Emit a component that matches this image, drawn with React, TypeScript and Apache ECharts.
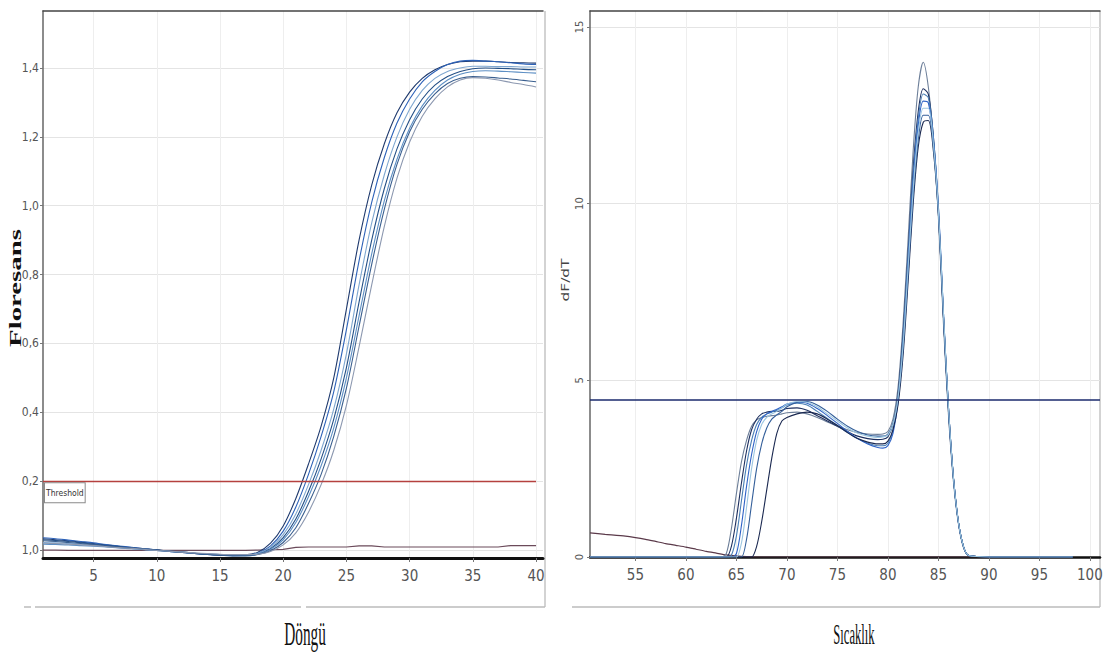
import React, { useEffect, useRef } from 'react';
import * as echarts from 'echarts';

// ---------- Left panel: amplification (Floresans vs Döngü) ----------
const cycles = [1, 2, 3, 4, 5, 6, 7, 8, 9, 10, 11, 12, 13, 14, 15, 16, 17, 18, 19, 20, 21, 22, 23, 24, 25, 26, 27, 28, 29, 30, 31, 32, 33, 34, 35, 36, 37, 38, 39, 40];

const ampA = [0.033, 0.030, 0.027, 0.023, 0.019, 0.015, 0.011, 0.007, 0.004, 0.001, -0.003, -0.006, -0.009, -0.012, -0.014, -0.015, -0.014, -0.006, 0.020, 0.070, 0.150, 0.250, 0.360, 0.500, 0.700, 0.900, 1.060, 1.180, 1.270, 1.330, 1.370, 1.395, 1.410, 1.418, 1.420, 1.420, 1.418, 1.416, 1.415, 1.414];
const ampB = [0.036, 0.033, 0.029, 0.025, 0.021, 0.016, 0.012, 0.008, 0.004, 0.000, -0.004, -0.007, -0.010, -0.013, -0.015, -0.016, -0.015, -0.009, 0.012, 0.055, 0.125, 0.220, 0.330, 0.460, 0.640, 0.840, 1.010, 1.140, 1.240, 1.310, 1.360, 1.390, 1.410, 1.420, 1.422, 1.420, 1.418, 1.415, 1.412, 1.410];
const ampC = [0.022, 0.021, 0.019, 0.017, 0.014, 0.011, 0.008, 0.005, 0.002, -0.001, -0.004, -0.006, -0.009, -0.011, -0.013, -0.014, -0.014, -0.009, 0.008, 0.045, 0.105, 0.190, 0.290, 0.410, 0.570, 0.770, 0.950, 1.090, 1.200, 1.280, 1.335, 1.370, 1.390, 1.400, 1.405, 1.405, 1.404, 1.404, 1.403, 1.403];
const ampD = [0.030, 0.028, 0.025, 0.021, 0.017, 0.013, 0.010, 0.006, 0.003, 0.000, -0.004, -0.007, -0.010, -0.013, -0.015, -0.017, -0.017, -0.012, 0.004, 0.036, 0.090, 0.170, 0.265, 0.380, 0.530, 0.720, 0.900, 1.050, 1.165, 1.250, 1.310, 1.350, 1.375, 1.390, 1.398, 1.400, 1.399, 1.398, 1.396, 1.395];
const ampE = [0.017, 0.016, 0.015, 0.013, 0.011, 0.009, 0.006, 0.004, 0.001, -0.001, -0.004, -0.006, -0.009, -0.011, -0.013, -0.015, -0.015, -0.012, 0.002, 0.030, 0.080, 0.155, 0.245, 0.355, 0.500, 0.680, 0.860, 1.015, 1.135, 1.225, 1.290, 1.335, 1.365, 1.382, 1.390, 1.392, 1.391, 1.389, 1.387, 1.385];
const ampF = [0.027, 0.025, 0.022, 0.019, 0.016, 0.012, 0.009, 0.006, 0.003, 0.000, -0.003, -0.006, -0.009, -0.012, -0.014, -0.015, -0.015, -0.013, -0.002, 0.022, 0.065, 0.135, 0.220, 0.330, 0.470, 0.650, 0.830, 0.990, 1.120, 1.215, 1.280, 1.325, 1.355, 1.370, 1.375, 1.374, 1.371, 1.368, 1.364, 1.360];
const ampG = [0.020, 0.019, 0.017, 0.015, 0.013, 0.010, 0.007, 0.005, 0.002, -0.001, -0.003, -0.006, -0.008, -0.010, -0.012, -0.013, -0.013, -0.012, -0.004, 0.015, 0.050, 0.110, 0.190, 0.290, 0.420, 0.590, 0.770, 0.940, 1.080, 1.185, 1.260, 1.310, 1.345, 1.365, 1.372, 1.370, 1.365, 1.358, 1.352, 1.345];
const ampNTC = [0.000, 0.000, -0.001, -0.001, -0.001, -0.001, -0.001, -0.001, -0.001, -0.001, -0.001, -0.001, -0.001, -0.001, -0.001, -0.001, -0.001, 0.000, 0.001, 0.002, 0.008, 0.009, 0.009, 0.009, 0.009, 0.012, 0.012, 0.009, 0.009, 0.009, 0.009, 0.009, 0.009, 0.009, 0.009, 0.009, 0.009, 0.013, 0.013, 0.013];

const thresholdValue = 0.2;
const thresholdStart = 1;
const thresholdEnd = 40;

const leftXTickValues = [5, 10, 15, 20, 25, 30, 35, 40];
const leftYTickValues = [0, 0.2, 0.4, 0.6, 0.8, 1.0, 1.2, 1.4];
const leftYTickLabels = ['1,0', '0,2', '0,4', '0,6', '0,8', '1,0', '1,2', '1,4'];

// ---------- Right panel: melt curve (dF/dT vs Sıcaklık) ----------
const temps = [50.5, 55, 60, 63, 63.5, 64, 64.5, 65, 65.5, 66, 66.5, 67, 67.5, 68, 68.5, 69, 69.5, 70, 71, 72, 73, 74, 75, 76, 77, 78, 79, 79.5, 80, 80.5, 81, 81.5, 82, 82.5, 83, 83.5, 84, 84.5, 85, 85.5, 86, 86.5, 87, 87.5, 88, 90, 95, 98.3];

const melt1 = [0, 0, 0, 0, 0, 0.1, 0.8, 1.8, 2.7, 3.3, 3.7, 3.88, 3.95, 3.98, 4.0, 4.02, 4.05, 4.08, 4.1, 4.05, 3.95, 3.82, 3.7, 3.6, 3.52, 3.48, 3.47, 3.48, 3.55, 3.9, 4.8, 6.6, 9.0, 11.5, 13.3, 14.0, 13.3, 11.8, 9.6, 6.6, 4.0, 2.1, 0.9, 0.25, 0.04, 0, 0, 0];
const melt2 = [0, 0, 0, 0, 0, 0, 0.3, 1.1, 2.1, 3.0, 3.6, 3.9, 4.05, 4.1, 4.12, 4.12, 4.15, 4.2, 4.22, 4.15, 4.0, 3.85, 3.7, 3.55, 3.42, 3.35, 3.32, 3.33, 3.4, 3.75, 4.6, 6.3, 8.6, 11.0, 12.6, 13.25, 13.1, 11.9, 9.8, 6.8, 4.1, 2.2, 0.95, 0.27, 0.04, 0, 0, 0];
const melt3 = [0, 0, 0, 0, 0, 0, 0.05, 0.6, 1.6, 2.6, 3.3, 3.75, 3.95, 4.05, 4.1, 4.15, 4.22, 4.3, 4.35, 4.3, 4.12, 3.92, 3.72, 3.52, 3.35, 3.22, 3.15, 3.15, 3.22, 3.6, 4.5, 6.2, 8.5, 10.8, 12.4, 13.1, 13.0, 11.9, 9.9, 6.9, 4.2, 2.2, 0.95, 0.28, 0.04, 0, 0, 0];
const melt4 = [0, 0, 0, 0, 0, 0, 0, 0.1, 0.9, 2.0, 2.9, 3.55, 3.9, 4.05, 4.12, 4.18, 4.25, 4.33, 4.38, 4.35, 4.2, 4.0, 3.78, 3.55, 3.35, 3.2, 3.1, 3.08, 3.15, 3.5, 4.4, 6.0, 8.3, 10.6, 12.2, 12.9, 12.85, 11.8, 9.9, 6.9, 4.2, 2.2, 0.95, 0.28, 0.04, 0, 0, 0];
const melt5 = [0, 0, 0, 0, 0, 0, 0, 0, 0.4, 1.4, 2.5, 3.3, 3.75, 3.95, 4.05, 4.12, 4.22, 4.32, 4.4, 4.38, 4.25, 4.05, 3.85, 3.65, 3.5, 3.42, 3.38, 3.4, 3.45, 3.75, 4.5, 6.0, 8.2, 10.4, 12.0, 12.7, 12.7, 11.7, 9.8, 6.9, 4.2, 2.2, 0.95, 0.28, 0.04, 0, 0, 0];
const melt6 = [0, 0, 0, 0, 0, 0, 0, 0, 0, 0.5, 1.5, 2.5, 3.2, 3.65, 3.9, 4.02, 4.12, 4.25, 4.38, 4.4, 4.3, 4.12, 3.9, 3.7, 3.55, 3.45, 3.42, 3.42, 3.48, 3.78, 4.5, 5.9, 8.0, 10.2, 11.8, 12.5, 12.5, 11.6, 9.7, 6.8, 4.2, 2.2, 0.95, 0.28, 0.04, 0, 0, 0];
const melt7 = [0, 0, 0, 0, 0, 0, 0, 0, 0, 0, 0, 0.3, 1.0, 1.9, 2.8, 3.5, 3.85, 3.95, 4.05, 4.1, 4.05, 3.9, 3.72, 3.52, 3.35, 3.25, 3.2, 3.2, 3.28, 3.6, 4.3, 5.7, 7.8, 10.0, 11.6, 12.3, 12.35, 11.5, 9.7, 6.8, 4.2, 2.2, 0.95, 0.28, 0.04, 0, 0, 0];

const ntcTemps = [50.5, 52, 54, 55, 56, 57, 58, 59, 60, 61, 62, 63, 64, 65, 66, 67, 91];
const ntcMelt = [0.68, 0.64, 0.59, 0.55, 0.5, 0.44, 0.38, 0.33, 0.28, 0.22, 0.16, 0.11, 0.06, 0.03, 0.01, 0.0, 0.0];

const meltLineValue = 4.45;

const rightXTickValues = [55, 60, 65, 70, 75, 80, 85, 90, 95, 100];
const rightYTickValues = [0, 5, 10, 15];

// ---------- Styles ----------
const NARROW = '"Liberation Sans Narrow", "DejaVu Sans Condensed", "Arial Narrow", sans-serif';
const SERIF = '"Liberation Serif", "DejaVu Serif", serif';

const ampColors = ['#1f3a6e', '#2d62b8', '#7fa7d0', '#234f86', '#5d8fc4', '#3a5f8f', '#8c98b0'];
const meltColors = ['#6d7f99', '#1d2f5f', '#4a7fb5', '#2f63c6', '#1a2850', '#345f9a', '#9cc6e0'];

function lookupLabel(values: number[], labels: string[], v: number) {
  for (let i = 0; i < values.length; i++) {
    if (Math.abs(values[i] - v) < 1e-6) return labels[i];
  }
  return '';
}

function buildOption() {
  const ampSets = [ampA, ampB, ampC, ampD, ampE, ampF, ampG];
  const meltSets = [melt1, melt2, melt3, melt4, melt7, melt6, melt5];

  const series: any[] = [];

  series.push({
    type: 'line',
    name: 'ntcAmp',
    xAxisIndex: 0,
    yAxisIndex: 0,
    data: cycles.map((c, i) => [c, ampNTC[i]]),
    showSymbol: false,
    symbol: 'none',
    lineStyle: { width: 1.2, color: '#6b4a5a' },
    z: 2,
  });

  ampSets.forEach((vals, k) => {
    series.push({
      type: 'line',
      name: 'amp' + (k + 1),
      xAxisIndex: 0,
      yAxisIndex: 0,
      data: cycles.map((c, i) => [c, vals[i]]),
      showSymbol: false,
      symbol: 'none',
      smooth: 0.3,
      lineStyle: { width: 1.1, color: ampColors[k] },
      z: 3,
    });
  });

  series.push({
    type: 'line',
    name: 'threshold',
    xAxisIndex: 0,
    yAxisIndex: 0,
    data: [],
    markLine: {
      silent: true,
      symbol: ['none', 'none'],
      lineStyle: { color: '#b5413f', width: 1.3, type: 'solid' },
      label: {
        show: true,
        formatter: 'Threshold',
        position: 'insideStartBottom',
        distance: 2,
        padding: [5, 1, 5, 1],
        backgroundColor: '#ffffff',
        borderColor: '#8a8a8a',
        borderWidth: 1,
        fontSize: 8.5,
        fontFamily: NARROW,
        color: '#333',
      },
      data: [[{ coord: [thresholdStart, thresholdValue] }, { coord: [thresholdEnd, thresholdValue] }]],
    },
  });

  series.push({
    type: 'line',
    name: 'ntcMelt',
    xAxisIndex: 2,
    yAxisIndex: 2,
    data: ntcTemps.map((t, i) => [t, ntcMelt[i]]),
    showSymbol: false,
    symbol: 'none',
    smooth: 0.2,
    lineStyle: { width: 1.2, color: '#5b3a4a' },
    z: 2,
  });

  meltSets.forEach((vals, k) => {
    series.push({
      type: 'line',
      name: 'melt' + (k + 1),
      xAxisIndex: 2,
      yAxisIndex: 2,
      data: temps.map((t, i) => [t, vals[i]]),
      showSymbol: false,
      symbol: 'none',
      smooth: 0.3,
      lineStyle: { width: 1.1, color: meltColors[k] },
      z: 3,
    });
  });

  series.push({
    type: 'line',
    name: 'meltLine',
    xAxisIndex: 2,
    yAxisIndex: 2,
    data: [],
    markLine: {
      silent: true,
      symbol: ['none', 'none'],
      label: { show: false },
      lineStyle: { color: '#1a2a6c', width: 1.5, type: 'solid' },
      data: [{ yAxis: meltLineValue }],
    },
  });

  const labelBase = { color: '#555', fontFamily: NARROW };

  return {
    animation: false,
    backgroundColor: '#ffffff',
    grid: [
      { left: 43, top: 11, width: 500, height: 547 },
      { left: 590, top: 11, width: 510, height: 546 },
    ],
    xAxis: [
      {
        gridIndex: 0,
        type: 'value',
        min: 1,
        max: 40.55,
        position: 'bottom',
        axisLine: { show: true, onZero: false, lineStyle: { color: '#111', width: 3 } },
        axisTick: { show: true, length: 4, lineStyle: { color: '#777' }, customValues: leftXTickValues },
        axisLabel: { ...labelBase, fontSize: 15, margin: 10, customValues: leftXTickValues, formatter: (v: number) => String(v) },
        splitLine: { show: true, lineStyle: { color: '#eeeeee', width: 1 } },
      },
      {
        gridIndex: 0,
        type: 'value',
        min: 1,
        max: 40.55,
        position: 'top',
        axisLine: { show: true, onZero: false, lineStyle: { color: '#444', width: 1.5 } },
        axisTick: { show: false },
        axisLabel: { show: false },
        splitLine: { show: false },
      },
      {
        gridIndex: 1,
        type: 'value',
        min: 50.5,
        max: 101,
        position: 'bottom',
        axisLine: { show: true, onZero: false, lineStyle: { color: '#111', width: 2.5 } },
        axisTick: { show: true, length: 4, lineStyle: { color: '#777' }, customValues: rightXTickValues },
        axisLabel: { ...labelBase, fontSize: 15, margin: 10, customValues: rightXTickValues, formatter: (v: number) => String(v) },
        splitLine: { show: true, lineStyle: { color: '#eeeeee', width: 1 } },
      },
      {
        gridIndex: 1,
        type: 'value',
        min: 50.5,
        max: 101,
        position: 'top',
        axisLine: { show: true, onZero: false, lineStyle: { color: '#444', width: 1.5 } },
        axisTick: { show: false },
        axisLabel: { show: false },
        splitLine: { show: false },
      },
    ],
    yAxis: [
      {
        gridIndex: 0,
        type: 'value',
        min: -0.023,
        max: 1.5655,
        position: 'left',
        axisLine: { show: true, onZero: false, lineStyle: { color: '#666', width: 1.5 } },
        axisTick: { show: true, length: 3, lineStyle: { color: '#777' }, customValues: leftYTickValues },
        axisLabel: {
          ...labelBase,
          fontSize: 12,
          margin: 4,
          customValues: leftYTickValues,
          formatter: (v: number) => lookupLabel(leftYTickValues, leftYTickLabels, v),
        },
        splitLine: { show: true, lineStyle: { color: '#e4e4e4', width: 1 } },
      },
      {
        gridIndex: 0,
        type: 'value',
        min: -0.023,
        max: 1.5655,
        position: 'right',
        axisLine: { show: false },
        axisTick: { show: false },
        axisLabel: { show: false },
        splitLine: { show: false },
      },
      {
        gridIndex: 1,
        type: 'value',
        min: 0,
        max: 15.45,
        position: 'left',
        axisLine: { show: true, onZero: false, lineStyle: { color: '#666', width: 1.5 } },
        axisTick: { show: true, length: 3, lineStyle: { color: '#777' }, customValues: rightYTickValues },
        axisLabel: { ...labelBase, fontSize: 11, margin: 5, rotate: 90, customValues: rightYTickValues, formatter: (v: number) => String(v) },
        splitLine: { show: true, lineStyle: { color: '#e4e4e4', width: 1 } },
      },
    ],
    series,
    graphic: [
      {
        type: 'text',
        x: 16,
        y: 288,
        rotation: Math.PI / 2,
        scaleX: 1.8,
        style: { text: 'Floresans', fontFamily: SERIF, fontWeight: 'bold', fontSize: 16, fill: '#111', align: 'center', verticalAlign: 'middle', textAlign: 'center', textVerticalAlign: 'middle' },
      },
      {
        type: 'text',
        x: 565,
        y: 280,
        rotation: Math.PI / 2,
        scaleX: 1.4,
        style: { text: 'dF/dT', fontFamily: '"DejaVu Sans", sans-serif', fontSize: 11, fill: '#444', align: 'center', verticalAlign: 'middle', textAlign: 'center', textVerticalAlign: 'middle' },
      },
      {
        type: 'text',
        x: 305,
        y: 634,
        scaleX: 0.45,
        style: { text: 'Döngü', fontFamily: SERIF, fontSize: 34, fill: '#111', align: 'center', verticalAlign: 'middle', textAlign: 'center', textVerticalAlign: 'middle' },
      },
      {
        type: 'text',
        x: 854,
        y: 634,
        scaleX: 0.42,
        style: { text: 'Sıcaklık', fontFamily: SERIF, fontSize: 30, fill: '#111', align: 'center', verticalAlign: 'middle', textAlign: 'center', textVerticalAlign: 'middle' },
      },
      { type: 'line', shape: { x1: 545, y1: 11, x2: 545, y2: 607 }, style: { stroke: '#c4c4c4', lineWidth: 1.5 } },
      { type: 'line', shape: { x1: 24, y1: 607, x2: 31, y2: 607 }, style: { stroke: '#bbbbbb', lineWidth: 1.5 } },
      { type: 'line', shape: { x1: 35, y1: 607, x2: 301, y2: 607 }, style: { stroke: '#bbbbbb', lineWidth: 1.5 } },
      { type: 'line', shape: { x1: 306, y1: 607, x2: 545, y2: 607 }, style: { stroke: '#bbbbbb', lineWidth: 1.5 } },
      { type: 'line', shape: { x1: 1100, y1: 11, x2: 1100, y2: 607 }, style: { stroke: '#c4c4c4', lineWidth: 1.5 } },
      { type: 'line', shape: { x1: 572, y1: 607, x2: 1100, y2: 607 }, style: { stroke: '#bbbbbb', lineWidth: 1.5 } },
    ],
  };
}

export default function App() {
  const ref = useRef<HTMLDivElement>(null);
  useEffect(() => {
    if (!ref.current) return;
    const chart = echarts.init(ref.current, null, { renderer: 'svg' });
    chart.setOption(buildOption() as any);
    return () => chart.dispose();
  }, []);
  return <div ref={ref} style={{ position: 'absolute', left: 0, top: 0, width: 1107, height: 654, background: '#fff' }} />;
}
